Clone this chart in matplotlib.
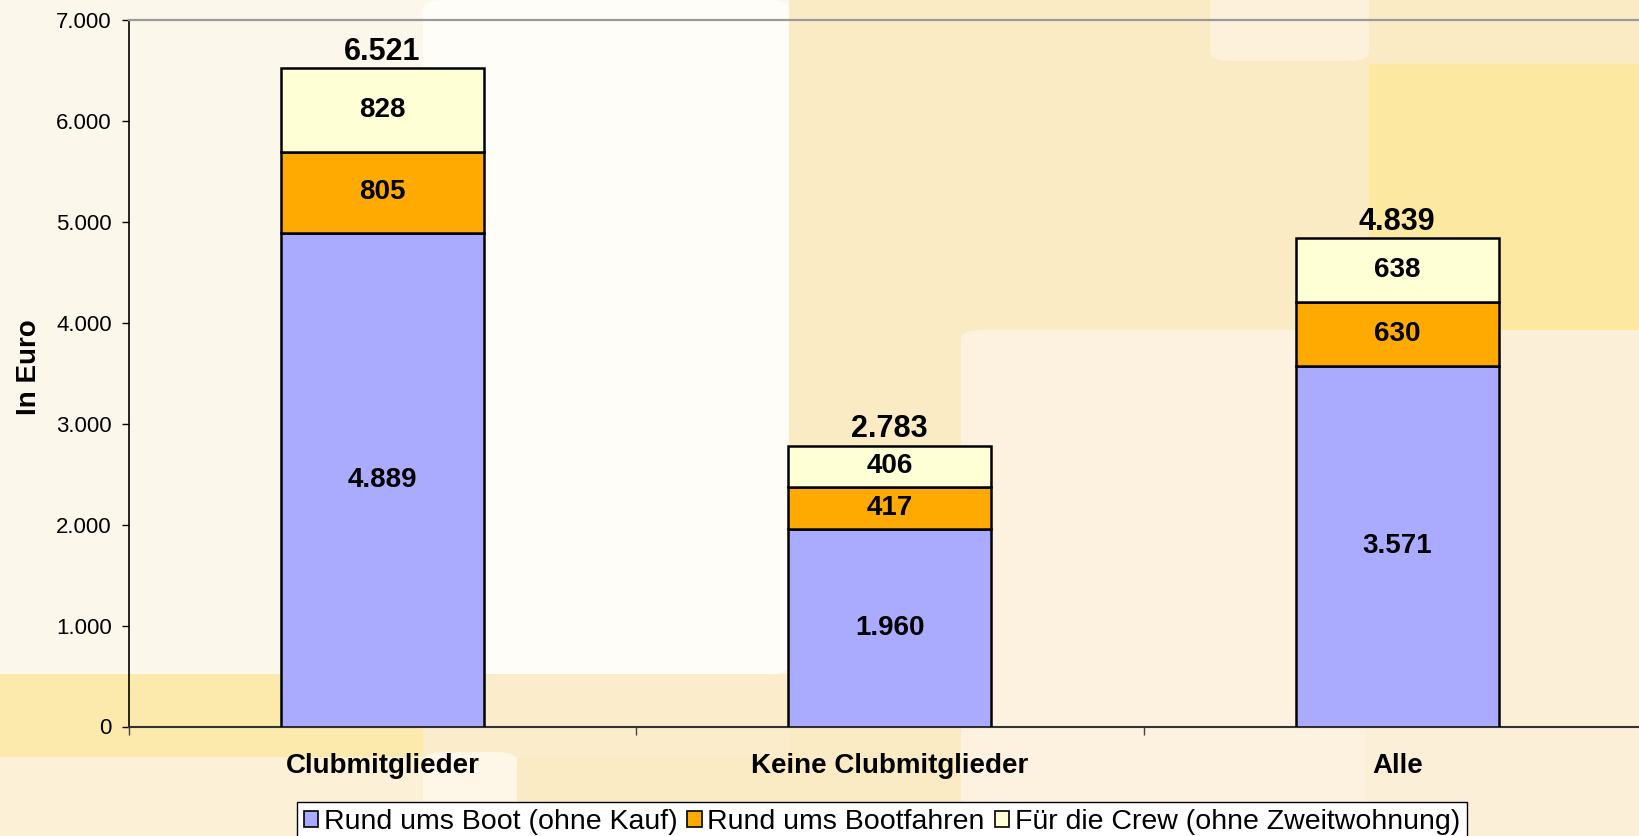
import numpy as np
import matplotlib
matplotlib.use("Agg")
import matplotlib.pyplot as plt
from matplotlib.patches import Rectangle, FancyBboxPatch, Patch
from matplotlib.ticker import FuncFormatter, FixedLocator

plt.rcParams['font.family'] = ['Liberation Sans', 'DejaVu Sans']

# --- Daten ---
kategorien = ["Clubmitglieder", "Keine Clubmitglieder", "Alle"]
boot = [4889, 1960, 3571]
bootfahren = [805, 417, 630]
crew = [828, 406, 638]
gesamt = [6521, 2783, 4839]
serien = ["Rund ums Boot (ohne Kauf)", "Rund ums Bootfahren", "Für die Crew (ohne Zweitwohnung)"]
farben = ["#AAAAFF", "#FFAA00", "#FFFFD6"]

W, H = 1639, 836
fig = plt.figure(figsize=(W / 100, H / 100), dpi=100)
fig.patch.set_facecolor("#FCF7EB")

# --- Hintergrund (Folienmuster) in Pixelkoordinaten ---
def block(x0, y0, x1, y1, color, rounded=False):
    if rounded:
        p = FancyBboxPatch((x0 / W, 1 - y1 / H), (x1 - x0) / W, (y1 - y0) / H,
                           boxstyle="round,pad=0,rounding_size=0.012",
                           transform=fig.transFigure, facecolor=color,
                           edgecolor="none", zorder=-10)
    else:
        p = Rectangle((x0 / W, 1 - y1 / H), (x1 - x0) / W, (y1 - y0) / H,
                      transform=fig.transFigure, facecolor=color,
                      edgecolor="none", zorder=-10)
    fig.patches.append(p)

block(789, 0, W, H, "#FBEBC4")
block(423, 0, 789, 674, "#FFFDF7", rounded=True)
block(0, 674, 423, 757, "#FCE9AC")
block(423, 674, 789, 757, "#FBEDCC")
block(0, 757, 423, H, "#FCF1D6")
block(423, 752, 517, H + 20, "#FEF6E6", rounded=True)
block(517, 757, 789, H, "#FBEBC4")
block(961, 330, W + 20, H + 20, "#FDF2DF", rounded=True)
block(1366, 330, W, H, "#FCEFD8")
block(1210, -20, 1369, 61, "#FDF1DC", rounded=True)
block(1369, 64, W, 330, "#FDE8A2")

# --- Achsen ---
ax = fig.add_axes([128.6 / W, 1 - 726.5 / H, (1651 - 128.6) / W, (726.5 - 19.9) / H])
ax.set_facecolor("none")

x = np.arange(len(kategorien))
breite = 0.4
unten = np.zeros(len(kategorien))
for werte, farbe, name in zip([boot, bootfahren, crew], farben, serien):
    ax.bar(x, werte, breite, bottom=unten, color=farbe, edgecolor="black",
           linewidth=1.8, label=name, zorder=3)
    for xi, b, v in zip(x, unten, werte):
        ax.text(xi, b + v / 2, f"{v:,}".replace(",", "."), ha="center", va="center",
                fontsize=20, fontweight="bold", zorder=4)
    unten = unten + np.array(werte)

for xi, top, g in zip(x, unten, gesamt):
    ax.annotate(f"{g:,}".replace(",", "."), (xi, top), xytext=(0, 1),
                textcoords="offset points", ha="center", va="bottom",
                fontsize=22, fontweight="bold", zorder=4)

ax.set_xlim(-0.5, 2.5)
ax.set_ylim(0, 7000)
ax.set_yticks(np.arange(0, 7001, 1000))
ax.yaxis.set_major_formatter(FuncFormatter(lambda v, p: f"{int(v):,}".replace(",", ".")))
ax.tick_params(axis="y", direction="out", length=5, width=1, pad=7, labelsize=16)

ax.set_xticks(x)
ax.set_xticklabels(kategorien, fontsize=20, fontweight="bold")
ax.tick_params(axis="x", which="major", length=0, pad=19)
ax.xaxis.set_minor_locator(FixedLocator([-0.5, 0.5, 1.5]))
ax.tick_params(axis="x", which="minor", direction="out", length=6, width=1, color="#444444")

ax.spines["left"].set_color("#000000")
ax.spines["left"].set_linewidth(1.2)
ax.spines["bottom"].set_color("#333333")
ax.spines["bottom"].set_linewidth(1.5)
ax.spines["top"].set_color("#9A9A9A")
ax.spines["top"].set_linewidth(1.6)
ax.spines["right"].set_visible(False)

fig.text(29 / W, 1 - 367 / H, "In Euro", rotation=90, ha="center", va="center",
         fontsize=20, fontweight="bold")

handles = [Patch(facecolor=f, edgecolor="black", linewidth=1.2) for f in farben]
leg = fig.legend(handles, serien, loc="upper center", bbox_to_anchor=(0.538, 1 - 802 / H),
                 ncol=3, fontsize=20.5, frameon=True, fancybox=False, edgecolor="black",
                 framealpha=1, handlelength=0.5, handleheight=0.5, handletextpad=0.2,
                 columnspacing=0.35, borderpad=0.25, borderaxespad=0)
leg.get_frame().set_linewidth(1.0)

fig.savefig("out.png", dpi=100, facecolor=fig.get_facecolor())
